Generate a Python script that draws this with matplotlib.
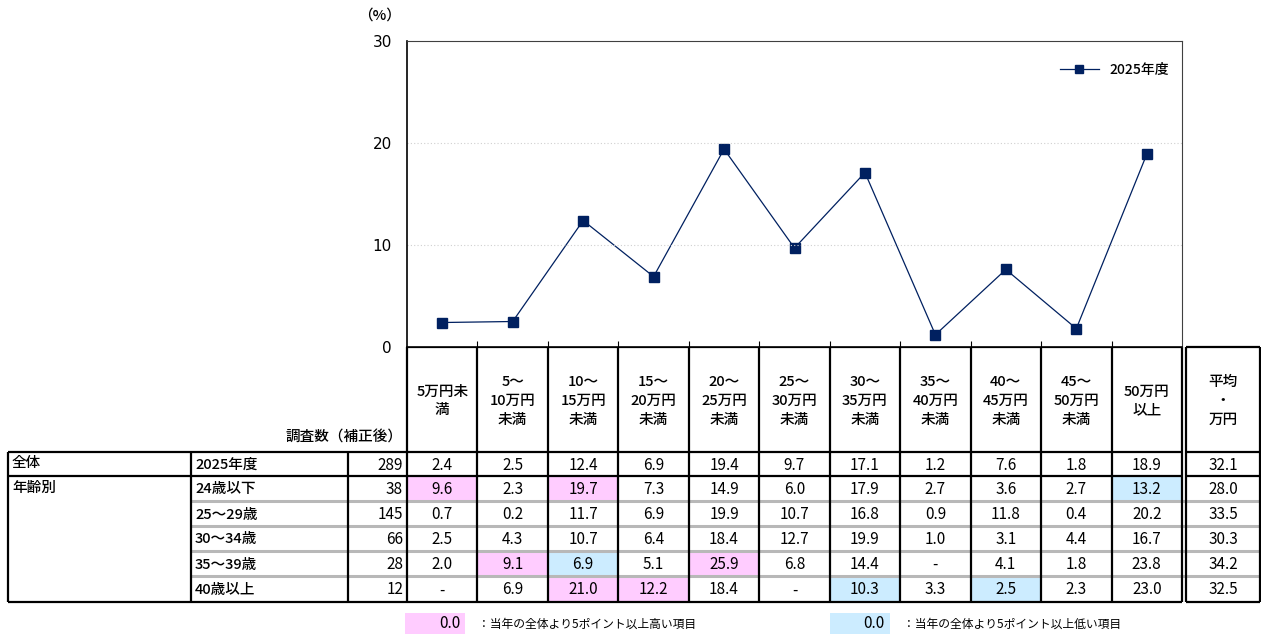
import matplotlib
matplotlib.use("Agg")
import matplotlib.pyplot as plt
from matplotlib.patches import Rectangle

plt.rcParams['font.family'] = ['Noto Sans CJK JP', 'DejaVu Sans']

# income brackets (header row) and the average column
brackets = ["5万円未\n満", "5～\n10万円\n未満", "10～\n15万円\n未満", "15～\n20万円\n未満",
            "20～\n25万円\n未満", "25～\n30万円\n未満", "30～\n35万円\n未満", "35～\n40万円\n未満",
            "40～\n45万円\n未満", "45～\n50万円\n未満", "50万円\n以上"]
avg_header = "平均\n・\n万円"

series_name = "2025年度"
overall_n = 289
overall = [2.4, 2.5, 12.4, 6.9, 19.4, 9.7, 17.1, 1.2, 7.6, 1.8, 18.9]
overall_avg = 32.1

age_groups = ["24歳以下", "25～29歳", "30～34歳", "35～39歳", "40歳以上"]
age_n = [38, 145, 66, 28, 12]
age_values = [
    [9.6, 2.3, 19.7, 7.3, 14.9, 6.0, 17.9, 2.7, 3.6, 2.7, 13.2],
    [0.7, 0.2, 11.7, 6.9, 19.9, 10.7, 16.8, 0.9, 11.8, 0.4, 20.2],
    [2.5, 4.3, 10.7, 6.4, 18.4, 12.7, 19.9, 1.0, 3.1, 4.4, 16.7],
    [2.0, 9.1, 6.9, 5.1, 25.9, 6.8, 14.4, None, 4.1, 1.8, 23.8],
    [None, 6.9, 21.0, 12.2, 18.4, None, 10.3, 3.3, 2.5, 2.3, 23.0],
]
age_avg = [28.0, 33.5, 30.3, 34.2, 32.5]

y_ticks = [0, 10, 20, 30]

PINK = "#FFCCFF"
BLUE = "#CCECFF"
NAVY = "#002060"

W, H = 1261, 635
fig = plt.figure(figsize=(W / 100, H / 100), dpi=100)

# pixel layout
x0, x1 = 407, 1182          # income columns span
xa0, xa1 = 1186, 1260       # average column
col_w = (x1 - x0) / len(brackets)
col_edges = [x0 + i * col_w for i in range(len(brackets) + 1)]
y_top, y_head = 41, 347
row_edges = [452, 476, 501, 526, 551, 576, 602]

# ---- line chart ----
ax = fig.add_axes([x0 / W, 1 - y_head / H, (x1 - x0) / W, (y_head - y_top) / H])
xs = [i + 0.5 for i in range(len(overall))]
ax.plot(xs, overall, color=NAVY, lw=0.9, marker="s", markersize=7,
        markerfacecolor=NAVY, markeredgecolor=NAVY, label=series_name)
ax.set_xlim(0, len(overall))
ax.set_ylim(0, 30)
ax.set_yticks(y_ticks)
ax.set_yticklabels([str(t) for t in y_ticks], fontsize=11, family=['DejaVu Sans'])
ax.tick_params(axis="y", length=0, pad=11)
ax.set_xticks(range(1, len(overall)))
ax.set_xticklabels([])
ax.tick_params(axis="x", direction="in", length=4, color="black")
for t in [10, 20]:
    ax.axhline(t, color="#d0d0d0", lw=0.8, ls=(0, (1, 2)))
for s in ["top", "right"]:
    ax.spines[s].set_color("#404040")
    ax.spines[s].set_linewidth(0.8)
ax.spines["left"].set_linewidth(1.2)
ax.spines["bottom"].set_linewidth(1.2)
leg = ax.legend(loc="upper right", frameon=False, handlelength=2.8, markerscale=0.75,
                bbox_to_anchor=(1.0, 0.97), prop=dict(size=10, weight="medium"))
fig.text(380 / W, 1 - 16 / H, "（%）", fontsize=10.5, fontweight="medium",
         ha="center", va="center")

# ---- table (drawn in pixel coordinates) ----
tb = fig.add_axes([0, 0, 1, 1], zorder=-1)
tb.set_xlim(0, W)
tb.set_ylim(H, 0)
tb.axis("off")


def fmt(v):
    return "-" if v is None else f"{v:.1f}"


def cell_color(v, base):
    if v is None or base is None:
        return None
    d = round(v - base, 1)
    if d >= 5:
        return PINK
    if d <= -5:
        return BLUE
    return None


# highlighted cells
for r, vals in enumerate(age_values):
    for c, v in enumerate(vals):
        fc = cell_color(v, overall[c])
        if fc:
            tb.add_patch(Rectangle((col_edges[c] + 1, row_edges[r + 1] + 1),
                                   col_w - 2, row_edges[r + 2] - row_edges[r + 1] - 2,
                                   facecolor=fc, edgecolor="none"))

# header labels
hdr = dict(ha="center", va="center", fontsize=10.5, fontweight="medium", linespacing=1.45)
for c, lab in enumerate(brackets):
    cx = (col_edges[c] + col_edges[c + 1]) / 2
    tb.text(cx, 401, lab, **hdr)
tb.text((xa0 + xa1) / 2, 401, avg_header, **hdr)
tb.text(403, 438, "調査数（補正後）", ha="right", va="center", fontsize=10.5,
        fontweight="medium")

# data rows
rows = [("全体", series_name, overall_n, overall, overall_avg)]
for i, g in enumerate(age_groups):
    rows.append(("年齢別" if i == 0 else "", g, age_n[i], age_values[i], age_avg[i]))

for r, (cat, sub, n, vals, avg) in enumerate(rows):
    cy = (row_edges[r] + row_edges[r + 1]) / 2 + 1
    if cat:
        tb.text(12, cy - 2, cat, ha="left", va="center", fontsize=10.5, fontweight="medium")
    tb.text(195, cy, sub, ha="left", va="center", fontsize=10.5, fontweight="medium")
    tb.text(403, cy, str(n), ha="right", va="center", fontsize=11)
    for c, v in enumerate(vals):
        cx = (col_edges[c] + col_edges[c + 1]) / 2
        tb.text(cx, cy, fmt(v), ha="center", va="center", fontsize=11)
    tb.text((xa0 + xa1) / 2, cy, fmt(avg), ha="center", va="center", fontsize=11)

# grid lines
blk = dict(color="black", lw=1.6, solid_capstyle="butt")
# gray separators between age rows
for y in row_edges[2:-1]:
    tb.plot([191, xa1], [y, y], color="#b8b8b8", lw=2.2, solid_capstyle="butt")
# horizontal black rules
tb.plot([x0, x1], [y_head, y_head], **blk)
tb.plot([xa0, xa1], [y_head, y_head], **blk)
for y in [row_edges[0], row_edges[1], row_edges[-1]]:
    tb.plot([8, x1], [y, y], **blk)
    tb.plot([xa0, xa1], [y, y], **blk)
# vertical rules
for x in [8, 191, 348]:
    tb.plot([x, x], [row_edges[0], row_edges[-1]], **blk)
for x in col_edges:
    tb.plot([x, x], [y_head, row_edges[-1]], **blk)
for x in [xa0, xa1]:
    tb.plot([x, x], [y_head, row_edges[-1]], **blk)

# colour key under the table
tb.add_patch(Rectangle((405, 613), 60, 21, facecolor=PINK, edgecolor="none"))
tb.text(460, 623.5, "0.0", ha="right", va="center", fontsize=11)
tb.text(478, 624, "：当年の全体より5ポイント以上高い項目", ha="left", va="center", fontsize=8.5)
tb.add_patch(Rectangle((830, 613), 60, 21, facecolor=BLUE, edgecolor="none"))
tb.text(885, 623.5, "0.0", ha="right", va="center", fontsize=11)
tb.text(903, 624, "：当年の全体より5ポイント以上低い項目", ha="left", va="center", fontsize=8.5)

fig.savefig("out.png", dpi=100)
